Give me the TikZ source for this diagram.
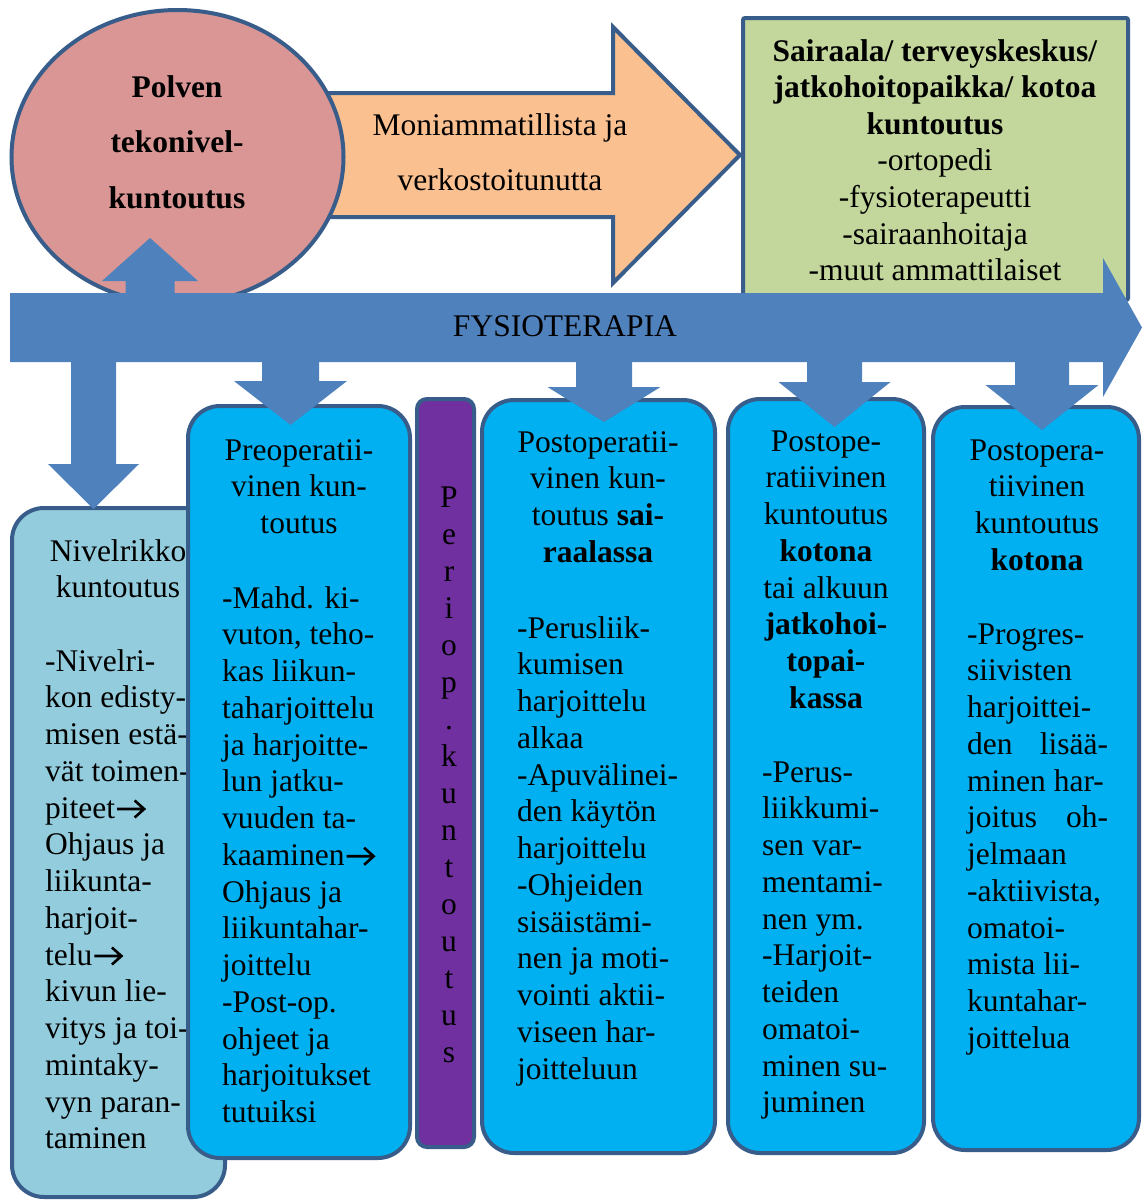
\documentclass[tikz,border=0pt]{standalone}
\usepackage{fontspec}
\setmainfont{Liberation Serif}
\usetikzlibrary{shapes.geometric}
\definecolor{bord}{HTML}{385D8A}
\definecolor{bandc}{HTML}{4F81BD}
\definecolor{pinkc}{HTML}{D99694}
\definecolor{orangec}{HTML}{FAC090}
\definecolor{greenc}{HTML}{C3D69B}
\definecolor{lblue}{HTML}{93CDDD}
\definecolor{bblue}{HTML}{00B0F0}
\definecolor{purplec}{HTML}{7030A0}
\newcommand\ra{\tikz[baseline=0pt,x=1pt,y=1pt]{\useasboundingbox (0,0) rectangle (32,19); \draw[line width=2.6pt, draw=black, line join=miter] (2,9) -- (29,9) (19.5,0.5) -- (29,9) -- (19.5,17.5);}}
\newcommand\rowsL[5]{\foreach \t [count=\i from 0] in {#5} {\node[txt,anchor=base west] (#1\i) at (#2,{#3+\i*#4}) {\t};}}
\newcommand\rowsC[5]{\foreach \t [count=\i from 0] in {#5} {\node[txt,anchor=base] (#1\i) at (#2,{#3+\i*#4}) {\t};}}
% name, cx, shaft half, ytop, head top, head half, tip
\newcommand\darrow[7]{\path[blk] ({#2-#3},#4) -- ({#2-#3},#5) -- ({#2-#6},#5) -- (#2,#7) -- ({#2+#6},#5) -- ({#2+#3},#5) -- ({#2+#3},#4) -- cycle; \coordinate (#1) at (#2,#7);}
\begin{document}
\begin{tikzpicture}[x=1pt,y=-1pt,
  bd/.style={draw=bord, line width=4pt},
  txt/.style={inner sep=0pt, font=\fontsize{31.5}{36.75}\selectfont},
  blk/.style={fill=bandc, draw=none},
  rbox/.style={bd, rectangle, rounded corners=32pt, inner sep=0pt},
]
\useasboundingbox (0,0) rectangle (1142,1200);
\fill[white] (0,0) rectangle (1142,1200);
% orange arrow
\draw[bd, fill=orangec, line join=miter] (300,93) -- (613,93) -- (613,27) -- (740,155) -- (613,283) -- (613,217) -- (300,217) -- cycle;
% circle
\node[bd, ellipse, fill=pinkc, minimum width=332pt, minimum height=294pt, inner sep=0pt] (circ) at (177.5,157) {};
% green box
\node[bd, rectangle, rounded corners=2pt, fill=greenc, minimum width=385pt, minimum height=282pt, inner sep=0pt] (green) at (935.5,159) {};
% band
\path[blk] (10,293) -- (1103,293) -- (1103,258) -- (1142,327.5) -- (1103,397) -- (1103,362) -- (10,362) -- cycle;
\node[txt, anchor=base] (fysio) at (565,336) {FYSIOTERAPIA};
% up arrow
\path[blk] (125.5,300) -- (125.5,281) -- (102,281) -- (150,238) -- (198,281) -- (174.5,281) -- (174.5,300) -- cycle;
\coordinate (uptip) at (150,238);
% texts top
\rowsC{tc}{177}{97}{55.5}{\textbf{Polven}, \textbf{tekonivel-}, \textbf{kuntoutus}}
\rowsC{to}{500}{135}{55}{Moniammatillista ja, verkostoitunutta}
\rowsC{tg}{935}{61}{36.6}{\textbf{Sairaala/ terveyskeskus/}, \textbf{jatkohoitopaikka/ kotoa}, \textbf{kuntoutus}, -ortopedi, -fysioterapeutti, -sairaanhoitaja, -muut ammattilaiset}
% box A
\node[rbox, fill=lblue, minimum width=213pt, minimum height=689pt] (boxA) at (118.5,852.5) {};
\rowsC{hA}{118}{561}{36.75}{Nivelrikko, kuntoutus}
\rowsL{bA}{45}{671}{36.75}{-Nivelri-, kon edisty-, misen estä-, vät toimen-, piteet\ra, Ohjaus ja, liikunta-, harjoit-, telu\ra, kivun lie-, vitys ja toi-, mintaky-, vyn paran-, taminen}
% box B
\node[rbox, fill=bblue, minimum width=222pt, minimum height=752pt] (boxB) at (299,782) {};
\rowsC{hB}{299}{460}{36.75}{Preoperatii-, vinen kun-, toutus}
\rowsL{bB}{222}{608}{36.75}{-Mahd. ki-, {vuton, teho-}, kas liikun-, taharjoittelu, ja harjoitte-, lun jatku-, vuuden ta-, kaaminen\ra, Ohjaus ja, liikuntahar-, joittelu, -Post-op., ohjeet ja, harjoitukset, tutuiksi}
% purple
\node[rbox, rounded corners=10pt, fill=purplec, minimum width=57pt, minimum height=748pt] (peri) at (445.5,773) {};
\rowsC{hP}{449}{507}{37}{P,e,r,i,o,p,.,k,u,n,t,o,u,t,u,s}
% box C
\node[rbox, fill=bblue, minimum width=233pt, minimum height=753pt] (boxC) at (598.5,776.5) {};
\rowsC{hC}{598}{452}{36.75}{Postoperatii-, vinen kun-, toutus \textbf{sai-}, \textbf{raalassa}}
\rowsL{bC}{517}{638}{36.75}{-Perusliik-, kumisen, harjoittelu, alkaa, -Apuvälinei-, den käytön, harjoittelu, -Ohjeiden, sisäistämi-, nen ja moti-, vointi aktii-, viseen har-, joitteluun}
% box D
\node[rbox, fill=bblue, minimum width=196pt, minimum height=754pt] (boxD) at (826,776) {};
\rowsC{hD}{826}{451}{36.75}{Postope-, ratiivinen, kuntoutus, \textbf{kotona}, tai alkuun, \textbf{jatkohoi-}, \textbf{topai-}, \textbf{kassa}}
\rowsL{bD}{762}{782}{36.75}{-Perus-, liikkumi-, sen var-, mentami-, nen ym., -Harjoit-, teiden, omatoi-, minen su-, juminen}
% box E
\node[rbox, fill=bblue, minimum width=206pt, minimum height=743pt] (boxE) at (1036,778.5) {};
\rowsC{hE}{1037}{460}{36.75}{Postopera-, tiivinen, kuntoutus, \textbf{kotona}}
\rowsL{bE}{967}{644}{36.75}{-Progres-, siivisten, harjoittei-, \hbox to 141pt{den\hfill lisää-}, minen har-, \hbox to 141pt{joitus\hfill oh-}, jelmaan, {-aktiivista,}, omatoi-, mista lii-, kuntahar-, joittelua}
% down arrows
\darrow{d1}{93.5}{22.5}{355}{464}{45.5}{509}
\darrow{d2}{290.5}{28.5}{355}{381}{56.5}{425}
\darrow{d3}{604}{28}{355}{387}{56.5}{422}
\darrow{d4}{834.5}{27.5}{355}{382}{56}{427}
\darrow{d5}{1042}{27}{355}{385}{56.5}{430}
\end{tikzpicture}
\end{document}
